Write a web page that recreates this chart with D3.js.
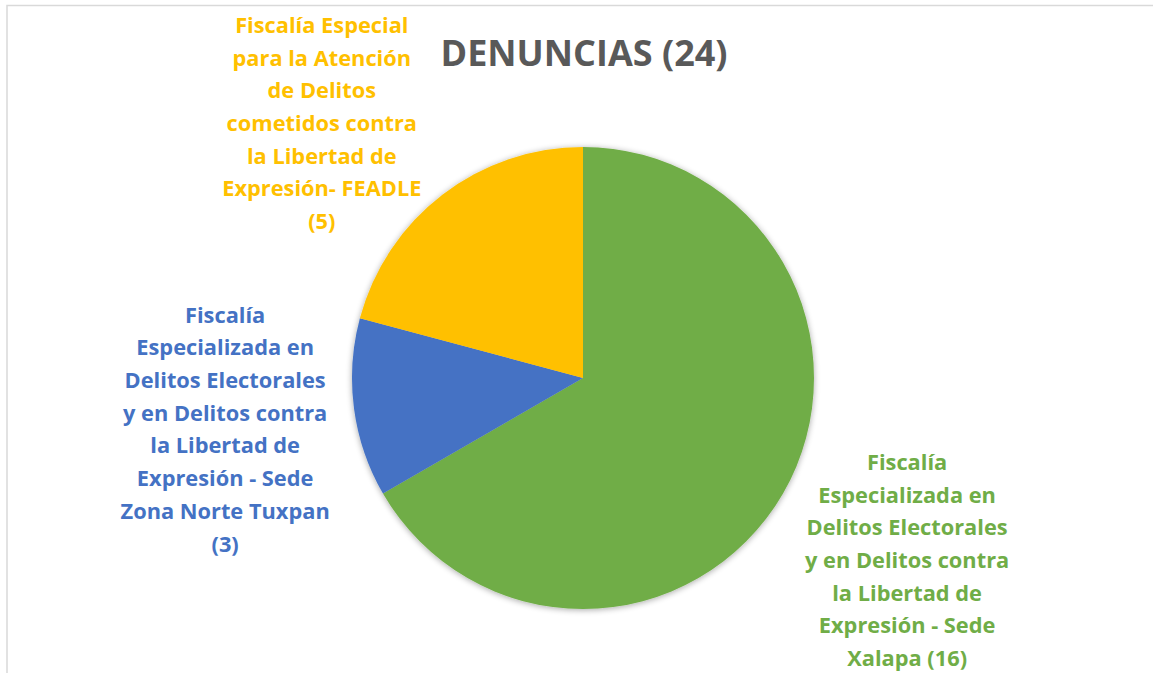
<!DOCTYPE html>
<html>
<head>
<meta charset="utf-8">
<script src="https://cdn.jsdelivr.net/npm/d3@7"></script>
<style>
  html, body { margin: 0; padding: 0; background: #fff; }
  svg { display: block; }
</style>
</head>
<body>
<div id="chart"></div>
<script>
// data
const categories = [
  "Fiscalía Especializada en Delitos Electorales y en Delitos contra la Libertad de Expresión - Sede Xalapa",
  "Fiscalía Especializada en Delitos Electorales y en Delitos contra la Libertad de Expresión - Sede Zona Norte Tuxpan",
  "Fiscalía Especial para la Atención de Delitos cometidos contra la Libertad de Expresión- FEADLE"
];
const values = [16, 3, 5];
const labelLines = [
  ["Fiscalía", "Especializada en", "Delitos Electorales", "y en Delitos contra", "la Libertad de", "Expresión - Sede", "Xalapa (16)"],
  ["Fiscalía", "Especializada en", "Delitos Electorales", "y en Delitos contra", "la Libertad de", "Expresión - Sede", "Zona Norte Tuxpan", "(3)"],
  ["Fiscalía Especial", "para la Atención", "de Delitos", "cometidos contra", "la Libertad de", "Expresión- FEADLE", "(5)"]
];
const colors = ["#70AD47", "#4472C4", "#FFC000"];
const title = "DENUNCIAS (24)";

const W = 1153, H = 673;
const cx = 583, cy = 378, r = 231;
const font = "'Open Sans', Lato, sans-serif";

const svg = d3.select("#chart").append("svg")
  .attr("width", W)
  .attr("height", H);

// chart area border (only top and left visible in the crop)
svg.append("path")
  .attr("d", "M7,673 V5.5 H1153")
  .attr("fill", "none")
  .attr("stroke", "#d9d9d9")
  .attr("stroke-width", 1.5);

// soft shadow for the pie
const defs = svg.append("defs");
const f = defs.append("filter").attr("id", "shadow")
  .attr("x", "-10%").attr("y", "-10%").attr("width", "120%").attr("height", "120%");
f.append("feGaussianBlur").attr("in", "SourceAlpha").attr("stdDeviation", 3);
f.append("feOffset").attr("dx", 0).attr("dy", 1).attr("result", "b");
f.append("feComponentTransfer").append("feFuncA").attr("type", "linear").attr("slope", 0.35);
const m = f.append("feMerge");
m.append("feMergeNode");
m.append("feMergeNode").attr("in", "SourceGraphic");

svg.append("text")
  .attr("x", 584)
  .attr("y", 66)
  .attr("text-anchor", "middle")
  .attr("font-family", font)
  .attr("font-weight", "bold")
  .attr("font-size", 36)
  .attr("fill", "#595959")
  .text(title);

const pie = d3.pie().sort(null).value(d => d);
const arcs = pie(values);

const arc = d3.arc().innerRadius(0).outerRadius(r);
const labelArc = d3.arc().innerRadius(365).outerRadius(365);

const g = svg.append("g")
  .attr("transform", `translate(${cx},${cy})`);

g.append("g")
  .attr("filter", "url(#shadow)")
  .selectAll("path")
  .data(arcs)
  .join("path")
  .attr("d", arc)
  .attr("fill", (d, i) => colors[i]);

// nudges so the label blocks sit where Excel put them
const nudge = [[8, 0], [4, 4], [-39, 35]];
const lineH = 32.7;

g.selectAll("text.lbl")
  .data(arcs)
  .join("text")
  .attr("class", "lbl")
  .attr("text-anchor", "middle")
  .attr("font-family", font)
  .attr("font-weight", "bold")
  .attr("font-size", 21.8)
  .attr("fill", (d, i) => colors[i])
  .each(function(d, i) {
    const c = labelArc.centroid(d);
    const x = c[0] + nudge[i][0];
    const lines = labelLines[i];
    const y0 = c[1] + nudge[i][1] - (lines.length - 1) * lineH / 2 + 7.5;
    d3.select(this).selectAll("tspan")
      .data(lines)
      .join("tspan")
      .attr("x", x)
      .attr("y", (l, k) => y0 + k * lineH)
      .text(l => l);
  });
</script>
</body>
</html>
